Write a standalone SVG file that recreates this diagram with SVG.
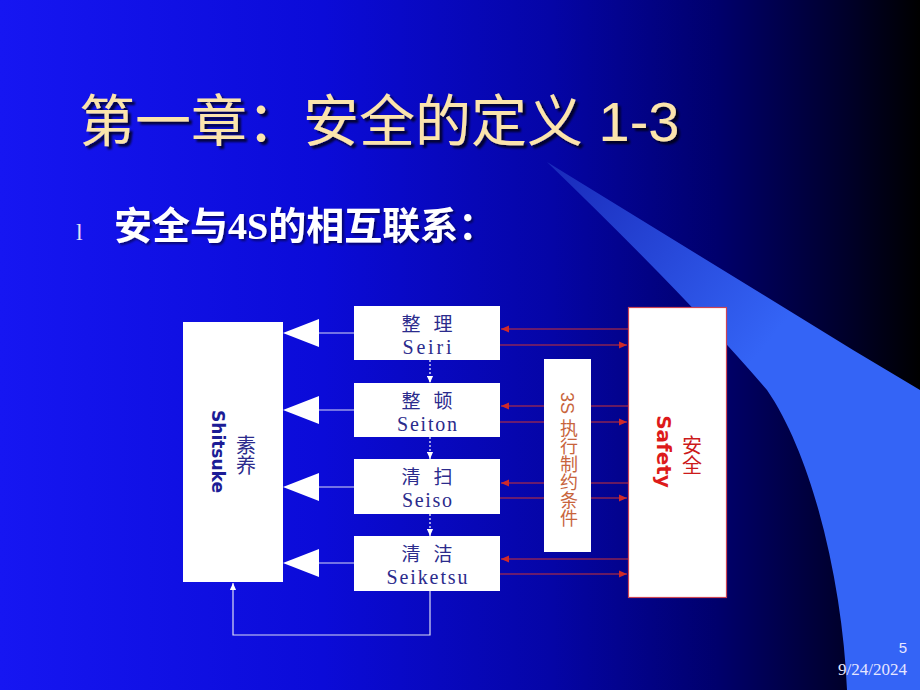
<svg xmlns="http://www.w3.org/2000/svg" width="920" height="690" viewBox="0 0 920 690">
<defs>
  <linearGradient id="bg" x1="0" y1="0" x2="1" y2="0">
    <stop offset="0" stop-color="#1616f2"/>
    <stop offset="0.35" stop-color="#0b0bd8"/>
    <stop offset="0.6" stop-color="#0505a6"/>
    <stop offset="0.78" stop-color="#00006c"/>
    <stop offset="0.92" stop-color="#00002a"/>
    <stop offset="1" stop-color="#000000"/>
  </linearGradient>
  <linearGradient id="swoosh" gradientUnits="userSpaceOnUse" x1="560" y1="170" x2="770" y2="340">
    <stop offset="0" stop-color="#1a2cbc"/>
    <stop offset="1" stop-color="#3464f6"/>
  </linearGradient>
  <filter id="shadow" x="-5%" y="-20%" width="110%" height="150%">
    <feDropShadow dx="3" dy="3" stdDeviation="1" flood-color="#000000" flood-opacity="0.75"/>
  </filter>
  <filter id="shadow2" x="-5%" y="-20%" width="110%" height="150%">
    <feDropShadow dx="2" dy="2" stdDeviation="0.8" flood-color="#000000" flood-opacity="0.5"/>
  </filter>
  <marker id="redArrow" viewBox="0 0 8 8" refX="8" refY="4" markerWidth="8" markerHeight="8" markerUnits="userSpaceOnUse" orient="auto">
    <path d="M0,0.5 L8,4 L0,7.5 Z" fill="#d02a2a"/>
  </marker>
  <marker id="whiteArrow" viewBox="0 0 8 8" refX="8" refY="4" markerWidth="7" markerHeight="7" markerUnits="userSpaceOnUse" orient="auto">
    <path d="M0,0.5 L8,4 L0,7.5 Z" fill="#ffffff"/>
  </marker>
  <style>
    .box { fill: #ffffff; }
    .cn { font-family: "Noto Sans CJK SC", sans-serif; font-size: 19px; fill: #2b2b8c; text-anchor: middle; }
    .lat { font-family: "Liberation Serif", "Noto Sans CJK SC", serif; font-size: 20px; fill: #2b2b8c; text-anchor: middle; }
    .red { stroke: #cc3333; stroke-width: 1.2; fill: none; }
    .wl { stroke: #dcdcf4; stroke-width: 1.2; fill: none; }
    .dot { stroke: #ffffff; stroke-width: 1.2; stroke-dasharray: 2 2; fill: none; }
    .tri { fill: #ffffff; }
    .vert { writing-mode: vertical-rl; }
  </style>
</defs>

<rect x="0" y="0" width="920" height="690" fill="url(#bg)"/>
<path d="M547,162 L853,350 L920,390 L920,690 L847,690 C843,590 815,460 767,390 Q690,300 547,162 Z" fill="url(#swoosh)"/>

<text x="79" y="141" filter="url(#shadow)" font-family="Liberation Sans, Noto Sans CJK SC, sans-serif" font-size="56" fill="#fbe4ac">第一章：安全的定义 1-3</text>
<text x="76" y="240" font-family="Liberation Serif, serif" font-size="24" fill="#e0e0f4">l</text>
<text x="114" y="239" filter="url(#shadow2)" font-family="Liberation Serif, Noto Sans CJK SC, sans-serif" font-size="38" font-weight="bold" fill="#ffffff">安全与4S的相互联系：</text>

<g id="connectors">
  <path class="wl" d="M319,333 H354"/>
  <path class="wl" d="M319,410 H354"/>
  <path class="wl" d="M319,487 H354"/>
  <path class="wl" d="M319,563 H354"/>
  <polygon class="tri" points="283,333 319,319 319,347"/>
  <polygon class="tri" points="283,410 319,396 319,424"/>
  <polygon class="tri" points="283,487 319,473 319,501"/>
  <polygon class="tri" points="283,563 319,549 319,577"/>
  <path class="dot" d="M430,360 V383" marker-end="url(#whiteArrow)"/>
  <path class="dot" d="M430,437 V459" marker-end="url(#whiteArrow)"/>
  <path class="dot" d="M430,514 V536" marker-end="url(#whiteArrow)"/>
  <path class="wl" d="M430,591 V635 H233 V583" marker-end="url(#whiteArrow)"/>
  <path class="red" d="M628,329 H501" marker-end="url(#redArrow)"/>
  <path class="red" d="M500,345 H627" marker-end="url(#redArrow)"/>
  <path class="red" d="M628,406 H501" marker-end="url(#redArrow)"/>
  <path class="red" d="M500,422 H627" marker-end="url(#redArrow)"/>
  <path class="red" d="M628,483 H501" marker-end="url(#redArrow)"/>
  <path class="red" d="M500,498 H627" marker-end="url(#redArrow)"/>
  <path class="red" d="M628,559 H501" marker-end="url(#redArrow)"/>
  <path class="red" d="M500,574 H627" marker-end="url(#redArrow)"/>
</g>

<g id="shitsuke">
  <rect class="box" x="183" y="322" width="100" height="260"/>
  <text transform="translate(212,451.5) rotate(90)" x="0" y="0" text-anchor="middle" font-family="DejaVu Sans, sans-serif" font-size="17" font-weight="bold" fill="#1c1c96">Shitsuke</text>
  <text class="vert" x="246" y="435" font-family="Noto Sans CJK SC, sans-serif" font-size="20" fill="#2b2b8c">素养</text>
</g>

<g id="seiri">
  <rect class="box" x="354" y="306" width="146" height="54"/>
  <text class="cn" x="411 443" y="331">整理</text>
  <text class="lat" x="427" y="354" textLength="49" lengthAdjust="spacing">Seiri</text>
</g>
<g id="seiton">
  <rect class="box" x="354" y="383" width="146" height="54"/>
  <text class="cn" x="411 443" y="408">整顿</text>
  <text class="lat" x="427" y="431" textLength="60" lengthAdjust="spacing">Seiton</text>
</g>
<g id="seiso">
  <rect class="box" x="354" y="459" width="146" height="55"/>
  <text class="cn" x="411 443" y="484">清扫</text>
  <text class="lat" x="427" y="507" textLength="50" lengthAdjust="spacing">Seiso</text>
</g>
<g id="seiketsu">
  <rect class="box" x="354" y="536" width="146" height="55"/>
  <text class="cn" x="411 443" y="561">清洁</text>
  <text class="lat" x="427" y="584" textLength="81" lengthAdjust="spacing">Seiketsu</text>
</g>

<g id="conditions">
  <rect class="box" x="544" y="359" width="47" height="193"/>
  <text class="vert" x="567" y="392" font-family="Liberation Sans, Noto Sans CJK SC, sans-serif" font-size="18" fill="#c8643c">3S 执行制约条件</text>
</g>

<g id="safety">
  <rect class="box" x="628.5" y="307.5" width="98" height="290" stroke="#cc4455" stroke-width="1.2"/>
  <text transform="translate(657,451.5) rotate(90)" x="0" y="0" text-anchor="middle" font-family="DejaVu Sans, sans-serif" font-size="20" font-weight="bold" fill="#dd1a1a">Safety</text>
  <text class="vert" x="692" y="435" font-family="Noto Sans CJK SC, sans-serif" font-size="20" fill="#cc1a1a">安全</text>
</g>

<text x="907" y="653" text-anchor="end" font-family="Liberation Sans, sans-serif" font-size="15" fill="#e6e6ff">5</text>
<text x="907" y="675" text-anchor="end" font-family="Liberation Serif, serif" font-size="17" fill="#e6e6ff">9/24/2024</text>
</svg>
